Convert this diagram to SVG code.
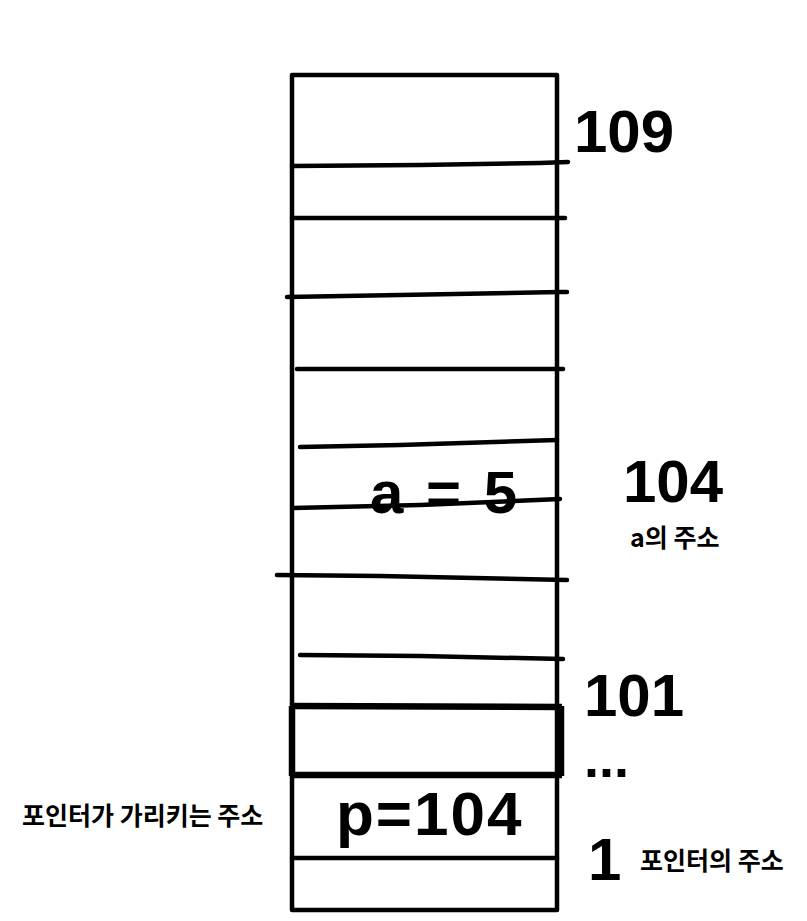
<svg xmlns="http://www.w3.org/2000/svg" width="807" height="921" viewBox="0 0 807 921">
<style>
.ln{fill:none;stroke:#000;stroke-width:4.5;stroke-linecap:round;stroke-linejoin:round}
.thick{fill:none;stroke:#000;stroke-width:6.5}
.num{font-family:"Liberation Sans",Arial,sans-serif;font-weight:bold;fill:#000}
.kr{font-family:"Noto Sans CJK KR","Noto Sans",sans-serif;font-weight:bold;fill:#000;font-size:25px}
</style>
<rect width="807" height="921" fill="#fff"/>
<g id="memory">
<rect x="292" y="75" width="265" height="835" class="ln" stroke-linecap="butt"/>
</g>
<g id="connectors">
<polyline class="ln" points="292,166 420,165 540,163 568,162"/>
<polyline class="ln" points="292,218 565,218"/>
<polyline class="ln" points="287,297 400,295 560,292 567,292"/>
<polyline class="ln" points="297,369 563,369"/>
<polyline class="ln" points="300,447 400,445 557,440"/>
<polyline class="ln" points="293,508 420,505 560,499"/>
<polyline class="ln" points="277,575 380,576 567,580"/>
<polyline class="ln" points="300,655 420,656 563,659"/>
<polyline class="thick" points="290,706 562,707"/>
<polyline class="thick" points="292,706 292,776"/>
<polyline class="thick" points="561,706 561,776"/>
<polyline class="thick" points="290,775 562,775"/>
<polyline class="ln" points="292,858 557,858"/>
</g>
<g id="labels">
<text class="num" x="574" y="152" font-size="60">109</text>
<text class="num" x="623" y="502" font-size="60">104</text>
<text class="kr" x="630" y="547" font-size="24">a의 주소</text>
<text class="num" x="370" y="513" font-size="60" letter-spacing="3">a = 5</text>
<text class="num" x="584" y="716" font-size="60">101</text>
<text class="num" x="584" y="777" font-size="54">...</text>
<text class="num" x="336" y="835" font-size="62" letter-spacing="2">p=104</text>
<text class="num" x="588" y="880" font-size="60">1</text>
<text class="kr" x="640" y="870">포인터의 주소</text>
<text class="kr" x="22" y="825">포인터가 가리키는 주소</text>
</g>
</svg>
